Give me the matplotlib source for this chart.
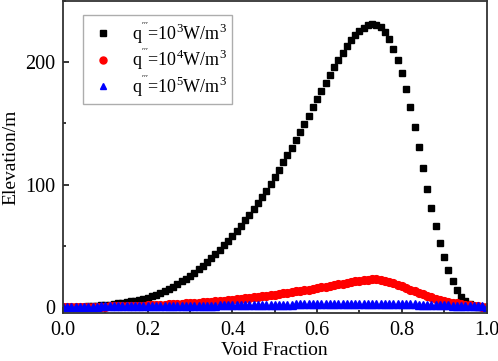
import numpy as np
import matplotlib
matplotlib.use("Agg")
import matplotlib.pyplot as plt
from matplotlib.ticker import MultipleLocator

plt.rcParams["font.family"] = ["Liberation Serif", "DejaVu Serif"]
plt.rcParams["mathtext.fontset"] = "custom"
plt.rcParams["mathtext.rm"] = "Liberation Serif"
plt.rcParams["mathtext.it"] = "Liberation Serif:italic"

# ---------------------------------------------------------------
# Data (0.01 steps in void fraction)
# ---------------------------------------------------------------
void_fraction = np.linspace(0.0, 1.0, 101)

elev_q3 = [
    0.0, 0.0, 0.1, 0.1, 0.2, 0.3, 0.5, 0.7, 0.9, 1.2,
    1.5, 1.9, 2.3, 2.8, 3.3, 3.9, 4.5, 5.2, 5.9, 6.7,
    7.5, 8.6, 9.9, 11.3, 12.9, 14.7, 16.6, 18.6, 20.8, 23.0,
    25.4, 28.0, 30.7, 33.6, 36.6, 39.8, 43.1, 46.6, 50.2, 54.0,
    58.0, 62.1, 66.4, 70.8, 75.3, 80.0, 84.8, 89.8, 95.0, 100.5,
    106.5, 112.2, 118.1, 124.1, 130.2, 136.3, 142.6, 149.2, 156.0, 163.0,
    169.8, 176.6, 183.3, 189.9, 196.2, 202.2, 207.8, 213.0, 217.8, 222.0,
    225.6, 228.4, 230.3, 231.2, 230.8, 228.7, 224.7, 218.8, 211.2, 201.8,
    190.8, 178.0, 163.3, 147.3, 130.4, 113.3, 96.6, 80.8, 66.1, 52.6,
    40.4, 29.8, 20.9, 13.8, 8.4, 4.6, 2.2, 0.9, 0.3, 0.1,
    0.0,
]

elev_q4 = [
    0.0, 0.0, 0.0, 0.1, 0.1, 0.1, 0.1, 0.2, 0.2, 0.3,
    0.3, 0.4, 0.4, 0.5, 0.6, 0.7, 0.8, 0.9, 1.0, 1.1,
    1.2, 1.4, 1.5, 1.7, 1.8, 2.0, 2.2, 2.4, 2.6, 2.8,
    3.0, 3.3, 3.5, 3.8, 4.0, 4.3, 4.6, 4.9, 5.2, 5.5,
    5.9, 6.2, 6.6, 7.0, 7.4, 7.8, 8.2, 8.6, 9.1, 9.5,
    10.0, 10.5, 11.0, 11.5, 12.0, 12.6, 13.1, 13.7, 14.2, 14.8,
    15.4, 16.0, 16.6, 17.2, 17.8, 18.4, 19.0, 19.6, 20.2, 20.8,
    21.4, 21.9, 22.3, 22.5, 22.4, 22.0, 21.3, 20.4, 19.3, 18.1,
    16.8, 15.5, 14.1, 12.8, 11.5, 10.2, 9.0, 7.9, 6.8, 5.8,
    4.9, 4.1, 3.4, 2.8, 2.2, 1.7, 1.3, 0.9, 0.6, 0.3,
    0.0,
]

elev_q5 = [
    0.3, 0.3, 0.3, 0.3, 0.3, 0.3, 0.3, 0.3, 0.3, 0.4,
    0.4, 0.4, 0.4, 0.4, 0.4, 0.5, 0.5, 0.5, 0.5, 0.6,
    0.6, 0.6, 0.6, 0.7, 0.7, 0.7, 0.8, 0.8, 0.8, 0.9,
    0.9, 0.9, 1.0, 1.0, 1.0, 1.1, 1.1, 1.2, 1.2, 1.2,
    1.3, 1.3, 1.4, 1.4, 1.5, 1.5, 1.5, 1.6, 1.6, 1.7,
    1.7, 1.8, 1.8, 1.9, 1.9, 2.0, 2.0, 2.1, 2.1, 2.2,
    2.2, 2.3, 2.3, 2.4, 2.4, 2.5, 2.5, 2.6, 2.6, 2.6,
    2.7, 2.7, 2.7, 2.7, 2.7, 2.7, 2.6, 2.6, 2.5, 2.4,
    2.3, 2.2, 2.1, 2.0, 1.9, 1.8, 1.7, 1.6, 1.5, 1.4,
    1.3, 1.2, 1.1, 1.0, 0.9, 0.8, 0.7, 0.6, 0.5, 0.4,
    0.3,
]

labels = [
    r"q$^{\mathrm{'''}}$=10$^{3}$W/m$^{3}$",
    r"q$^{\mathrm{'''}}$=10$^{4}$W/m$^{3}$",
    r"q$^{\mathrm{'''}}$=10$^{5}$W/m$^{3}$",
]

# ---------------------------------------------------------------
# Plot
# ---------------------------------------------------------------
fig = plt.figure(figsize=(4.98, 3.61), dpi=100)
ax = fig.add_axes([0.1265, 0.133, 0.8505, 0.864])

ax.plot(void_fraction, elev_q3, ls="none", marker="s", ms=4.6,
        color="black", label=labels[0])
ax.plot(void_fraction, elev_q4, ls="none", marker="o", ms=5.6,
        color="red", label=labels[1])
ax.plot(void_fraction, elev_q5, ls="none", marker="^", ms=5.4,
        color="blue", label=labels[2])

ax.set_xlim(0.0, 1.0)
ax.set_ylim(-5, 250)
ax.xaxis.set_major_locator(MultipleLocator(0.2))
ax.xaxis.set_minor_locator(MultipleLocator(0.1))
ax.yaxis.set_major_locator(MultipleLocator(100))
ax.yaxis.set_minor_locator(MultipleLocator(50))
ax.set_xticklabels([f"{v:.1f}" for v in ax.get_xticks()])

ax.tick_params(which="both", direction="in", top=False, right=False,
               labelsize=14.5, width=1.1)
ax.tick_params(which="major", length=4.5, pad=5.5)
ax.tick_params(which="minor", length=2.5)
for s in ax.spines.values():
    s.set_linewidth(1.3)
    s.set_color("#333333")

ax.set_xlabel("Void Fraction", fontsize=14, labelpad=1.5)
ax.set_ylabel("Elevation/m", fontsize=14, labelpad=4)

leg = ax.legend(loc="upper left", bbox_to_anchor=(0.047, 0.955), fontsize=13,
                borderaxespad=0, frameon=True, fancybox=False,
                edgecolor="#999999", handletextpad=0.8, borderpad=0.3,
                labelspacing=0.08, handlelength=1.6, markerscale=0.9)
leg.get_frame().set_linewidth(1.0)

fig.savefig("out.png", dpi=100)
